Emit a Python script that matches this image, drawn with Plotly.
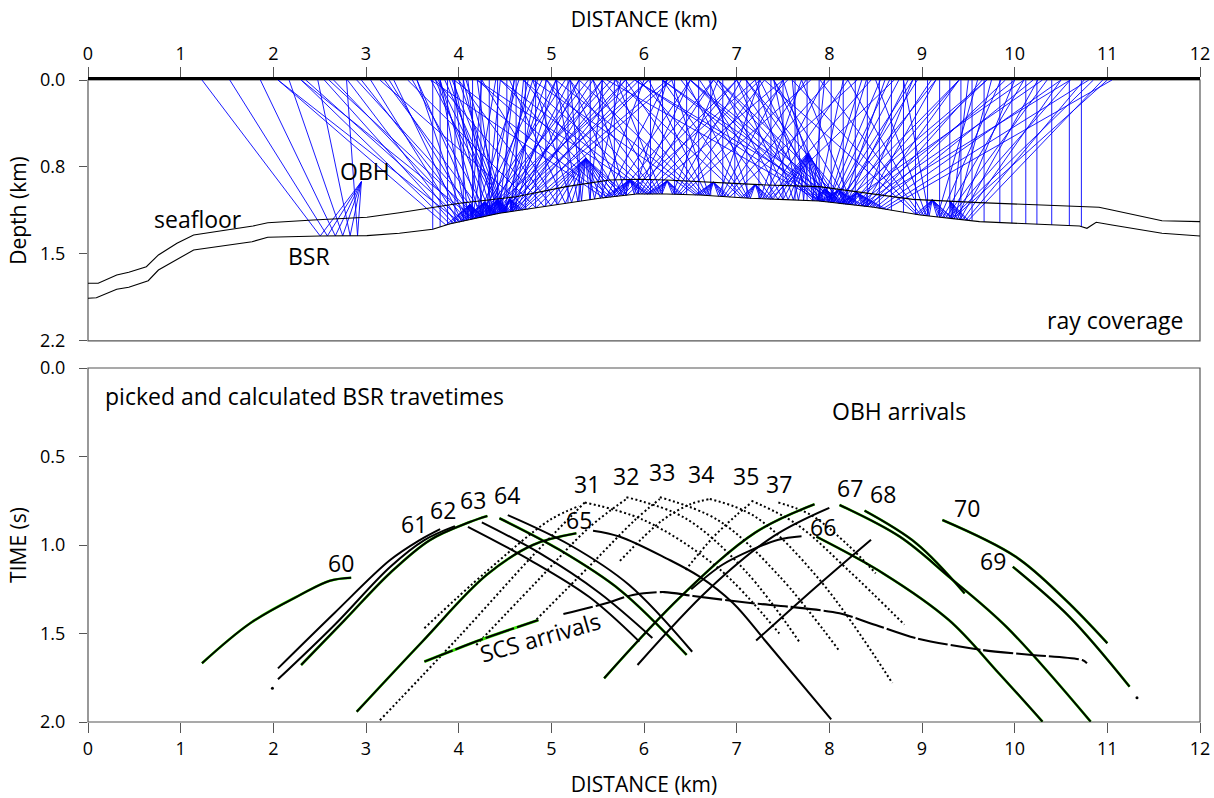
import numpy as np
import plotly.graph_objects as go

# ---------------- upper panel: horizons (distance km, depth km) ----------------
seafloor_x = [0.0, 0.11, 0.31, 0.44, 0.63, 0.76, 0.96, 1.14, 1.78, 1.94, 2.43, 3.01, 3.36, 3.80,
              4.01, 4.62, 5.16, 5.63, 5.95, 6.24, 6.96, 7.32, 7.89, 8.90, 9.62, 10.70, 10.91,
              11.05, 11.59, 12.0]
seafloor_d = [1.714, 1.714, 1.644, 1.621, 1.574, 1.475, 1.376, 1.307, 1.231, 1.203, 1.180, 1.157,
              1.119, 1.068, 1.039, 0.984, 0.899, 0.843, 0.837, 0.843, 0.871, 0.885, 0.899, 1.006,
              1.034, 1.062, 1.073, 1.096, 1.186, 1.194]

bsr_x = [0.0, 0.09, 0.31, 0.44, 0.65, 0.76, 1.14, 1.77, 1.94, 2.50, 3.01, 3.36, 3.72, 3.90, 4.44,
         5.16, 5.52, 5.92, 6.24, 6.60, 7.14, 7.46, 7.89, 8.48, 8.98, 9.62, 9.98, 10.70, 10.78,
         10.88, 11.05, 11.59, 12.0]
bsr_d = [1.840, 1.835, 1.764, 1.747, 1.692, 1.602, 1.433, 1.363, 1.326, 1.315, 1.312, 1.292, 1.258,
         1.214, 1.124, 1.039, 0.997, 0.961, 0.961, 0.969, 0.997, 1.006, 1.020, 1.073, 1.138,
         1.194, 1.208, 1.231, 1.250, 1.199, 1.222, 1.292, 1.315]

# OBH receivers and the shot positions traced to each of them
obh_x = [2.95, 4.12, 4.28, 4.42, 4.55, 5.37, 5.85, 6.25, 6.75, 7.20, 7.77, 7.95, 8.10, 8.30, 9.11, 9.30]
obh_d = [0.857, 1.05, 1.03, 1.01, 1.00, 0.66, 0.84, 0.85, 0.86, 0.88, 0.62, 0.92, 0.93, 0.95, 1.01, 1.02]
obh_shots = [
    [1.23, 1.53, 1.86, 2.17, 2.48, 2.79],
    [2.05, 2.30, 2.55, 2.80, 3.05, 3.30, 3.55, 3.80, 3.95, 4.25, 4.40, 4.65, 4.90, 5.15, 5.40, 5.65, 5.90],
    [2.05, 2.35, 2.65, 2.95, 3.25, 3.55, 3.80, 3.95, 4.10, 4.45, 4.60, 4.80, 5.05, 5.30, 5.55, 5.80, 6.05],
    [2.30, 2.60, 2.90, 3.20, 3.50, 3.75, 3.90, 4.05, 4.20, 4.60, 4.75, 4.95, 5.20, 5.45, 5.70, 5.95, 6.25],
    [3.70, 3.78, 3.85, 3.93, 4.00, 4.08, 4.70, 4.85, 5.05, 5.30, 5.55, 5.80, 6.05, 6.30],
    [3.15, 3.45, 3.75, 4.00, 4.25, 4.55, 4.80, 5.05, 5.20, 5.55, 5.75, 6.00, 6.25, 6.50, 6.75, 7.00, 7.20],
    [3.70, 3.95, 4.20, 4.45, 4.70, 4.95, 5.20, 5.45, 6.25, 6.50, 6.75, 7.00, 7.25, 7.50],
    [4.20, 4.45, 4.70, 4.95, 5.20, 5.45, 5.70, 6.80, 7.05, 7.30, 7.55, 7.80],
    [4.80, 5.05, 5.30, 5.55, 5.80, 6.05, 6.30, 7.25, 7.50, 7.75, 8.00, 8.30],
    [5.70, 5.95, 6.20, 6.45, 6.70, 7.70, 7.95, 8.20, 8.45, 8.70],
    [6.40, 6.60, 6.80, 7.00, 7.20, 7.40, 7.60, 7.95, 8.15, 8.35, 8.55, 8.75, 8.95],
    [6.50, 6.75, 7.00, 7.25, 7.50, 8.40, 8.65, 8.90, 9.15, 9.40, 9.70, 10.10],
    [5.60, 5.90, 6.20, 6.50, 6.80, 7.10, 7.40, 8.60, 8.85, 9.10, 9.40, 9.70, 10.00, 10.30, 10.60],
    [5.90, 6.20, 6.50, 6.80, 7.10, 7.40, 7.70, 8.90, 9.15, 9.40, 9.65, 9.90, 10.20, 10.50, 10.80, 11.05],
    [7.30, 7.60, 7.90, 8.20, 8.50, 8.80, 9.60, 9.85, 10.10, 10.35, 10.60, 10.85, 11.00],
    [9.50, 9.75, 10.00, 10.25, 10.50, 10.75, 10.95],
]

# zero-offset (SCS) shot positions
scs_ray_x = [3.72, 3.80, 3.88, 3.96, 4.05, 4.15, 4.24, 4.33, 4.42, 4.52, 4.62, 4.72, 4.83, 4.94,
             5.06, 5.18, 5.30, 5.42, 5.55, 5.68, 5.81, 5.94, 6.07, 6.20, 6.33, 6.46, 6.59, 6.72,
             6.85, 6.98, 7.11, 7.24, 7.37, 7.50, 7.63, 7.76, 7.89, 8.02, 8.15, 8.28, 8.41, 8.54,
             8.67, 8.80, 8.93, 9.06, 9.19, 9.30, 9.42, 9.54, 9.67, 9.84, 9.97, 10.12, 10.24,
             10.40, 10.59, 10.72]

depth_tickvals = [0.0, 0.7333, 1.4667, 2.2]
depth_ticktext = ["0.0", "0.8", "1.5", "2.2"]

# ---------------- lower panel: BSR travel times (distance km, time s) ----------------
t60_x = [1.23, 1.75, 2.29, 2.61, 2.84]
t60_t = [1.668, 1.442, 1.282, 1.202, 1.185]
t61l_x = [2.05, 2.66, 3.26, 3.58, 3.80]
t61l_t = [1.697, 1.384, 1.085, 0.972, 0.910]
t62l_x = [2.05, 2.66, 3.26, 3.63, 3.96]
t62l_t = [1.759, 1.452, 1.124, 0.972, 0.893]
t63l_x = [2.30, 2.77, 3.26, 3.69, 4.12, 4.31]
t63l_t = [1.678, 1.424, 1.158, 0.972, 0.870, 0.836]
t61r_x = [4.10, 4.77, 5.41, 5.95]
t61r_t = [0.897, 1.085, 1.294, 1.546]
t62r_x = [4.25, 4.87, 5.52, 6.09]
t62r_t = [0.872, 1.045, 1.271, 1.525]
t63r_x = [4.44, 5.09, 5.74, 6.46]
t63r_t = [0.849, 1.028, 1.254, 1.621]
t64r_x = [4.53, 5.20, 5.84, 6.52]
t64r_t = [0.831, 1.000, 1.226, 1.603]
t65l_x = [2.90, 3.60, 4.30, 4.80, 5.27]
t65l_t = [1.942, 1.550, 1.170, 1.000, 0.934]
t65r_x = [5.45, 5.74, 6.24, 6.60, 6.96, 7.32, 8.02]
t65r_t = [0.919, 0.953, 1.075, 1.179, 1.328, 1.548, 1.985]
t66l_x = [6.51, 6.85, 7.15, 7.45, 7.70]
t66l_t = [1.25, 1.11, 1.03, 0.97, 0.95]
t66r_x = [7.86, 8.58, 9.29, 9.83, 10.30]
t66r_t = [0.953, 1.160, 1.424, 1.725, 1.998]
t67l_x = [5.57, 6.40, 7.20, 7.84]
t67l_t = [1.753, 1.290, 0.930, 0.770]
t67r_x = [8.11, 8.76, 9.29, 9.91, 10.82]
t67r_t = [0.774, 0.953, 1.179, 1.462, 1.998]
t68l_x = [5.93, 6.70, 7.40, 8.00]
t68l_t = [1.678, 1.250, 0.950, 0.790]
t68r_x = [8.38, 8.94, 9.46]
t68r_t = [0.806, 0.991, 1.273]
t69l_x = [7.21, 7.85, 8.45]
t69l_t = [1.54, 1.24, 0.97]
t69r_x = [9.98, 10.59, 11.24]
t69r_t = [1.123, 1.405, 1.800]
t70_x = [9.22, 10.01, 10.55, 11.00]
t70_t = [0.859, 1.066, 1.311, 1.555]
stray_x = [1.99, 11.32]
stray_t = [1.81, 1.863]

scs_x = [3.63, 4.23, 4.86, None, 5.13, 5.59, 5.88, 6.22, 6.53, 7.17, 7.57, 8.11, 8.50, 8.94,
         9.65, 10.19, 10.73, 10.78]
scs_t = [1.659, 1.537, 1.424, None, 1.390, 1.329, 1.282, 1.266, 1.288, 1.329, 1.349, 1.386,
         1.452, 1.527, 1.593, 1.621, 1.650, 1.668]

# OBH 31-37 branches
d31l_x = [3.15, 4.00, 4.80, 5.36]
d31l_t = [1.99, 1.52, 1.06, 0.76]
d31b_x = [3.63, 4.30, 4.98, 5.30]
d31b_t = [1.47, 1.15, 0.86, 0.78]
d32l_x = [4.19, 4.80, 5.41, 5.81]
d32l_t = [1.565, 1.23, 0.90, 0.74]
d33l_x = [4.84, 5.41, 5.90, 6.17]
d33l_t = [1.42, 1.12, 0.86, 0.74]
d34l_x = [5.74, 6.20, 6.50, 6.71]
d34l_t = [1.09, 0.86, 0.77, 0.74]
d35l_x = [6.45, 6.74, 7.00, 7.16]
d35l_t = [1.14, 0.96, 0.83, 0.76]
d31r_x = [5.36, 6.00, 6.80, 7.46]
d31r_t = [0.76, 0.86, 1.13, 1.50]
d32r_x = [5.81, 6.45, 7.10, 7.68]
d32r_t = [0.73, 0.85, 1.15, 1.55]
d33r_x = [6.17, 6.80, 7.45, 8.11]
d33r_t = [0.73, 0.86, 1.17, 1.60]
d34r_x = [6.71, 7.20, 7.90, 8.68]
d34r_t = [0.74, 0.84, 1.20, 1.78]
d35r_x = [7.16, 7.64, 8.20, 8.81]
d35r_t = [0.75, 0.88, 1.14, 1.45]
d37r_x = [7.45, 7.80, 8.20, 8.50]
d37r_t = [0.76, 0.83, 1.00, 1.16]

label_text = ["60", "61", "62", "63", "64", "31", "32", "33", "34", "35", "37", "65", "66",
              "67", "68", "70", "69"]
label_x = [2.73, 3.52, 3.83, 4.15, 4.52, 5.38, 5.81, 6.19, 6.62, 7.10, 7.46, 5.30, 7.93,
           8.22, 8.58, 9.49, 9.77]
label_t = [1.10, 0.88, 0.80, 0.745, 0.72, 0.655, 0.61, 0.59, 0.60, 0.61, 0.655, 0.86, 0.90,
           0.68, 0.71, 0.79, 1.09]

FONT = "Open Sans"
BLACK = "#000000"
GREEN = "#33e000"
GRID = "#555555"

fig = go.Figure()

# ---- ray tracing for the coverage diagram (straight rays, mirror reflection on BSR)
def bsr_depth(x):
    return float(np.interp(x, bsr_x, bsr_d))

ray_x, ray_y = [], []
for ox, od, shots in zip(obh_x, obh_d, obh_shots):
    for xs in shots:
        xr = 0.5 * (xs + ox)
        for _ in range(5):
            db = bsr_depth(xr)
            xr = (xs * (db - od) + ox * db) / (2 * db - od)
        db = bsr_depth(xr)
        ray_x += [xs, xr, ox, None]
        ray_y += [0.0, db, od, None]
for xs in scs_ray_x:
    ray_x += [xs, xs, None]
    ray_y += [0.0, bsr_depth(xs), None]

fig.add_trace(go.Scatter(x=ray_x, y=ray_y, mode="lines", xaxis="x", yaxis="y",
                         line=dict(color="#0000ff", width=0.9), hoverinfo="skip"))
fig.add_trace(go.Scatter(x=seafloor_x, y=seafloor_d, mode="lines", xaxis="x", yaxis="y",
                         line=dict(color=BLACK, width=1.1)))
fig.add_trace(go.Scatter(x=bsr_x, y=bsr_d, mode="lines", xaxis="x", yaxis="y",
                         line=dict(color=BLACK, width=1.1)))

# ---- travel-time branches
solid = [
    (t60_x, t60_t, True), (t61l_x, t61l_t, False), (t62l_x, t62l_t, False), (t63l_x, t63l_t, True),
    (t61r_x, t61r_t, False), (t62r_x, t62r_t, False), (t63r_x, t63r_t, True), (t64r_x, t64r_t, False),
    (t65l_x, t65l_t, True), (t65r_x, t65r_t, False), (t66l_x, t66l_t, False), (t66r_x, t66r_t, True),
    (t67l_x, t67l_t, True), (t67r_x, t67r_t, True), (t68l_x, t68l_t, False), (t68r_x, t68r_t, True),
    (t69l_x, t69l_t, False), (t69r_x, t69r_t, True), (t70_x, t70_t, True),
]
dotted = [
    (d31l_x, d31l_t), (d31b_x, d31b_t), (d32l_x, d32l_t), (d33l_x, d33l_t), (d34l_x, d34l_t),
    (d35l_x, d35l_t), (d31r_x, d31r_t), (d32r_x, d32r_t), (d33r_x, d33r_t), (d34r_x, d34r_t),
    (d35r_x, d35r_t), (d37r_x, d37r_t),
]

for xs, ts, picked in solid:
    if picked:
        fig.add_trace(go.Scatter(x=xs, y=ts, mode="lines", xaxis="x2", yaxis="y2",
                                 line=dict(color=GREEN, width=2.6, shape="spline", smoothing=1.0)))
for xs, ts in dotted:
    fig.add_trace(go.Scatter(x=xs, y=ts, mode="lines", xaxis="x2", yaxis="y2",
                             line=dict(color=BLACK, width=2.0, dash="2px,2.5px",
                                       shape="spline", smoothing=1.0)))
for xs, ts, picked in solid:
    fig.add_trace(go.Scatter(x=xs, y=ts, mode="lines", xaxis="x2", yaxis="y2",
                             line=dict(color=BLACK, width=2.0, shape="spline", smoothing=1.0)))

fig.add_trace(go.Scatter(x=scs_x[:3], y=scs_t[:3], mode="lines", xaxis="x2", yaxis="y2",
                         line=dict(color=GREEN, width=3.0, shape="spline")))
fig.add_trace(go.Scatter(x=scs_x, y=scs_t, mode="lines", xaxis="x2", yaxis="y2", connectgaps=False,
                         line=dict(color=BLACK, width=2.1, dash="30px,3px", shape="spline",
                                   smoothing=0.8)))
fig.add_trace(go.Scatter(x=stray_x, y=stray_t, mode="markers", xaxis="x2", yaxis="y2",
                         marker=dict(color=BLACK, size=3)))

# ---- text
ann = []
big = dict(family=FONT, size=23, color=BLACK)
ann.append(dict(x=2.99, y=0.77, xref="x", yref="y", text="OBH", showarrow=False, font=big))
ann.append(dict(x=1.19, y=1.17, xref="x", yref="y", text="seafloor", showarrow=False, font=big))
ann.append(dict(x=2.38, y=1.48, xref="x", yref="y", text="BSR", showarrow=False, font=big))
ann.append(dict(x=11.85, y=2.02, xref="x", yref="y", text="ray coverage", showarrow=False,
                xanchor="right", font=big))
ann.append(dict(x=0.16, y=0.16, xref="x2", yref="y2", text="picked and calculated BSR travetimes",
                showarrow=False, xanchor="left", font=big))
ann.append(dict(x=8.75, y=0.245, xref="x2", yref="y2", text="OBH arrivals", showarrow=False,
                font=big))
ann.append(dict(x=4.88, y=1.52, xref="x2", yref="y2", text="SCS arrivals", showarrow=False,
                textangle=-16, font=big))
for txt, lx, lt in zip(label_text, label_x, label_t):
    ann.append(dict(x=lx, y=lt, xref="x2", yref="y2", text=txt, showarrow=False, font=big))

tickfont = dict(family=FONT, size=18, color=BLACK)
titlefont = dict(family=FONT, size=21, color=BLACK)

fig.update_layout(
    width=1214, height=798,
    margin=dict(l=88, r=14, t=80, b=76, autoexpand=False),
    paper_bgcolor="white", plot_bgcolor="white",
    showlegend=False,
    annotations=ann,
    xaxis=dict(domain=[0, 1], anchor="y", side="top", range=[0, 12], tickvals=list(range(13)),
               ticks="outside", ticklen=10, tickcolor=GRID, tickwidth=1, showgrid=False,
               zeroline=False, showline=True, linecolor=BLACK, linewidth=2.5, automargin=False,
               tickfont=tickfont, title=dict(text="DISTANCE (km)", font=titlefont, standoff=8)),
    yaxis=dict(domain=[0.5935, 1], anchor="x", range=[2.2, 0], tickvals=depth_tickvals,
               ticktext=depth_ticktext, ticks="outside", ticklen=8, tickcolor=GRID,
               showgrid=False, zeroline=False, tickfont=tickfont, automargin=False,
               ticklabelstandoff=10,
               title=dict(text="Depth (km)", font=titlefont, standoff=7)),
    xaxis2=dict(domain=[0, 1], anchor="y2", range=[0, 12], tickvals=list(range(13)),
                ticks="outside", ticklen=10, tickcolor=GRID, showgrid=False, zeroline=False,
                tickfont=tickfont, automargin=False,
                title=dict(text="DISTANCE (km)", font=titlefont, standoff=22)),
    yaxis2=dict(domain=[0, 0.5514], anchor="x2", range=[2.0, 0], tickvals=[0, 0.5, 1.0, 1.5, 2.0],
                tickformat=".1f", ticks="outside", ticklen=8, tickcolor=GRID, showgrid=False,
                zeroline=False, tickfont=tickfont, automargin=False, ticklabelstandoff=10,
                title=dict(text="TIME (s)", font=titlefont, standoff=7)),
    shapes=[
        dict(type="rect", xref="x domain", yref="y domain", x0=0, x1=1, y0=0, y1=1,
             line=dict(color=GRID, width=1.2), layer="below"),
        dict(type="rect", xref="x2 domain", yref="y2 domain", x0=0, x1=1, y0=0, y1=1,
             line=dict(color=GRID, width=1.2), layer="below"),
    ],
)

fig.write_html("out.html")
